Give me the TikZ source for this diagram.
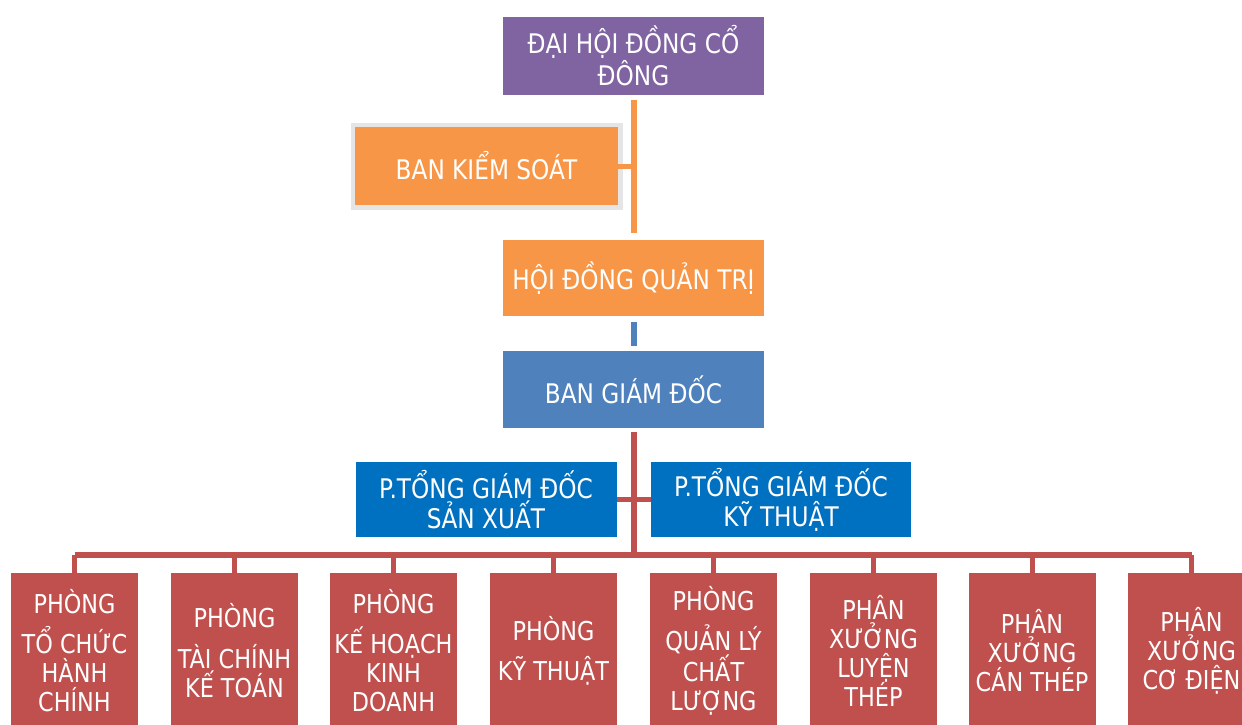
\documentclass[tikz,border=0pt]{standalone}
\usepackage{fontspec}
\newfontfamily\vnfont[FakeStretch=0.86]{DejaVu Sans}
\definecolor{purp}{HTML}{8064A2}
\definecolor{orng}{HTML}{F79646}
\definecolor{blu}{HTML}{4F81BD}
\definecolor{dblu}{HTML}{0070C0}
\definecolor{rd}{HTML}{C0504D}
\begin{document}
\begin{tikzpicture}[x=1pt,y=-1pt,
  box/.style={inner sep=0pt, outer sep=0pt, text=white, align=center,
    font=\vnfont\fontsize{27}{32}\selectfont},
  topbox/.style={box, minimum width=261pt, minimum height=77pt},
  pbox/.style={box, fill=dblu, minimum width=261pt, minimum height=75pt,
    font=\vnfont\fontsize{27}{30}\selectfont},
  dept/.style={box, fill=rd, minimum width=127pt, minimum height=155pt,
    font=\vnfont\fontsize{26}{29}\selectfont},
  orline/.style={draw=orng, line width=6pt},
  blline/.style={draw=blu, line width=6pt},
  rdline/.style={draw=rd, line width=6pt},
  drop/.style={draw=rd, line width=5pt}]
\clip (0,0) rectangle (1242,724);
\fill[white] (0,0) rectangle (1242,724);

\node[topbox, fill=purp, minimum height=78pt] (dh) at (633.5,56) {ĐẠI HỘI ĐỒNG CỔ\\ĐÔNG};
\node[box, fill=orng, minimum width=263pt, minimum height=78pt,
  preaction={draw=black!10, line width=9pt}] (bks) at (486.5,166) {BAN KIỂM SOÁT};
\node[topbox, fill=orng, minimum height=76pt] (hd) at (633.5,278) {HỘI ĐỒNG QUẢN TRỊ};
\node[topbox, fill=blu] (bgd) at (633.5,389.5) {BAN GIÁM ĐỐC};
\node[pbox] (p1) at (486,499.5) {P.TỔNG GIÁM ĐỐC\\SẢN XUẤT};
\node[pbox, minimum width=260pt] (p2) at (781,499.5) {P.TỔNG GIÁM ĐỐC\\KỸ THUẬT};

\node[dept] (d1) at (74.5,650.5) {PHÒNG\\[11pt]TỔ CHỨC\\HÀNH\\CHÍNH};
\node[dept] (d2) at (234.5,650.5) {PHÒNG\\[12pt]TÀI CHÍNH\\KẾ TOÁN};
\node[dept] (d3) at (393.5,650.5) {PHÒNG\\[11pt]KẾ HOẠCH\\KINH\\DOANH};
\node[dept] (d4) at (553.5,650.5) {PHÒNG\\[11pt]KỸ THUẬT};
\node[dept] (d5) at (713.5,650.5) {PHÒNG\\[11pt]QUẢN LÝ\\CHẤT\\LƯỢNG};
\node[dept] (d6) at (873.5,650.5) {PHÂN\\XƯỞNG\\LUYỆN\\THÉP};
\node[dept] (d7) at (1032,650.5) {PHÂN\\XƯỞNG\\CÁN THÉP};
\node[dept] (d8) at (1191.5,650.5) {PHÂN\\XƯỞNG\\CƠ ĐIỆN};

\coordinate (bus) at (633.5,555);

\draw[orline] ([yshift=-5pt]dh.south) -- ([yshift=7pt]hd.north);
\draw[orline, line width=5pt] (bks.east) -- (bks.east -| dh.south);
\draw[blline] ([yshift=-6pt]hd.south) -- ([yshift=5pt]bgd.north);
\draw[rdline] ([yshift=-4pt]bgd.south) -- (bus);
\draw[drop] (p1.east) -- (p2.west);
\draw[rdline] (bus -| d1.north) -- (bus -| d8.north);
\foreach \i in {1,...,8}
  \draw[drop] (bus -| d\i.north) -- (d\i.north);
\end{tikzpicture}
\end{document}
